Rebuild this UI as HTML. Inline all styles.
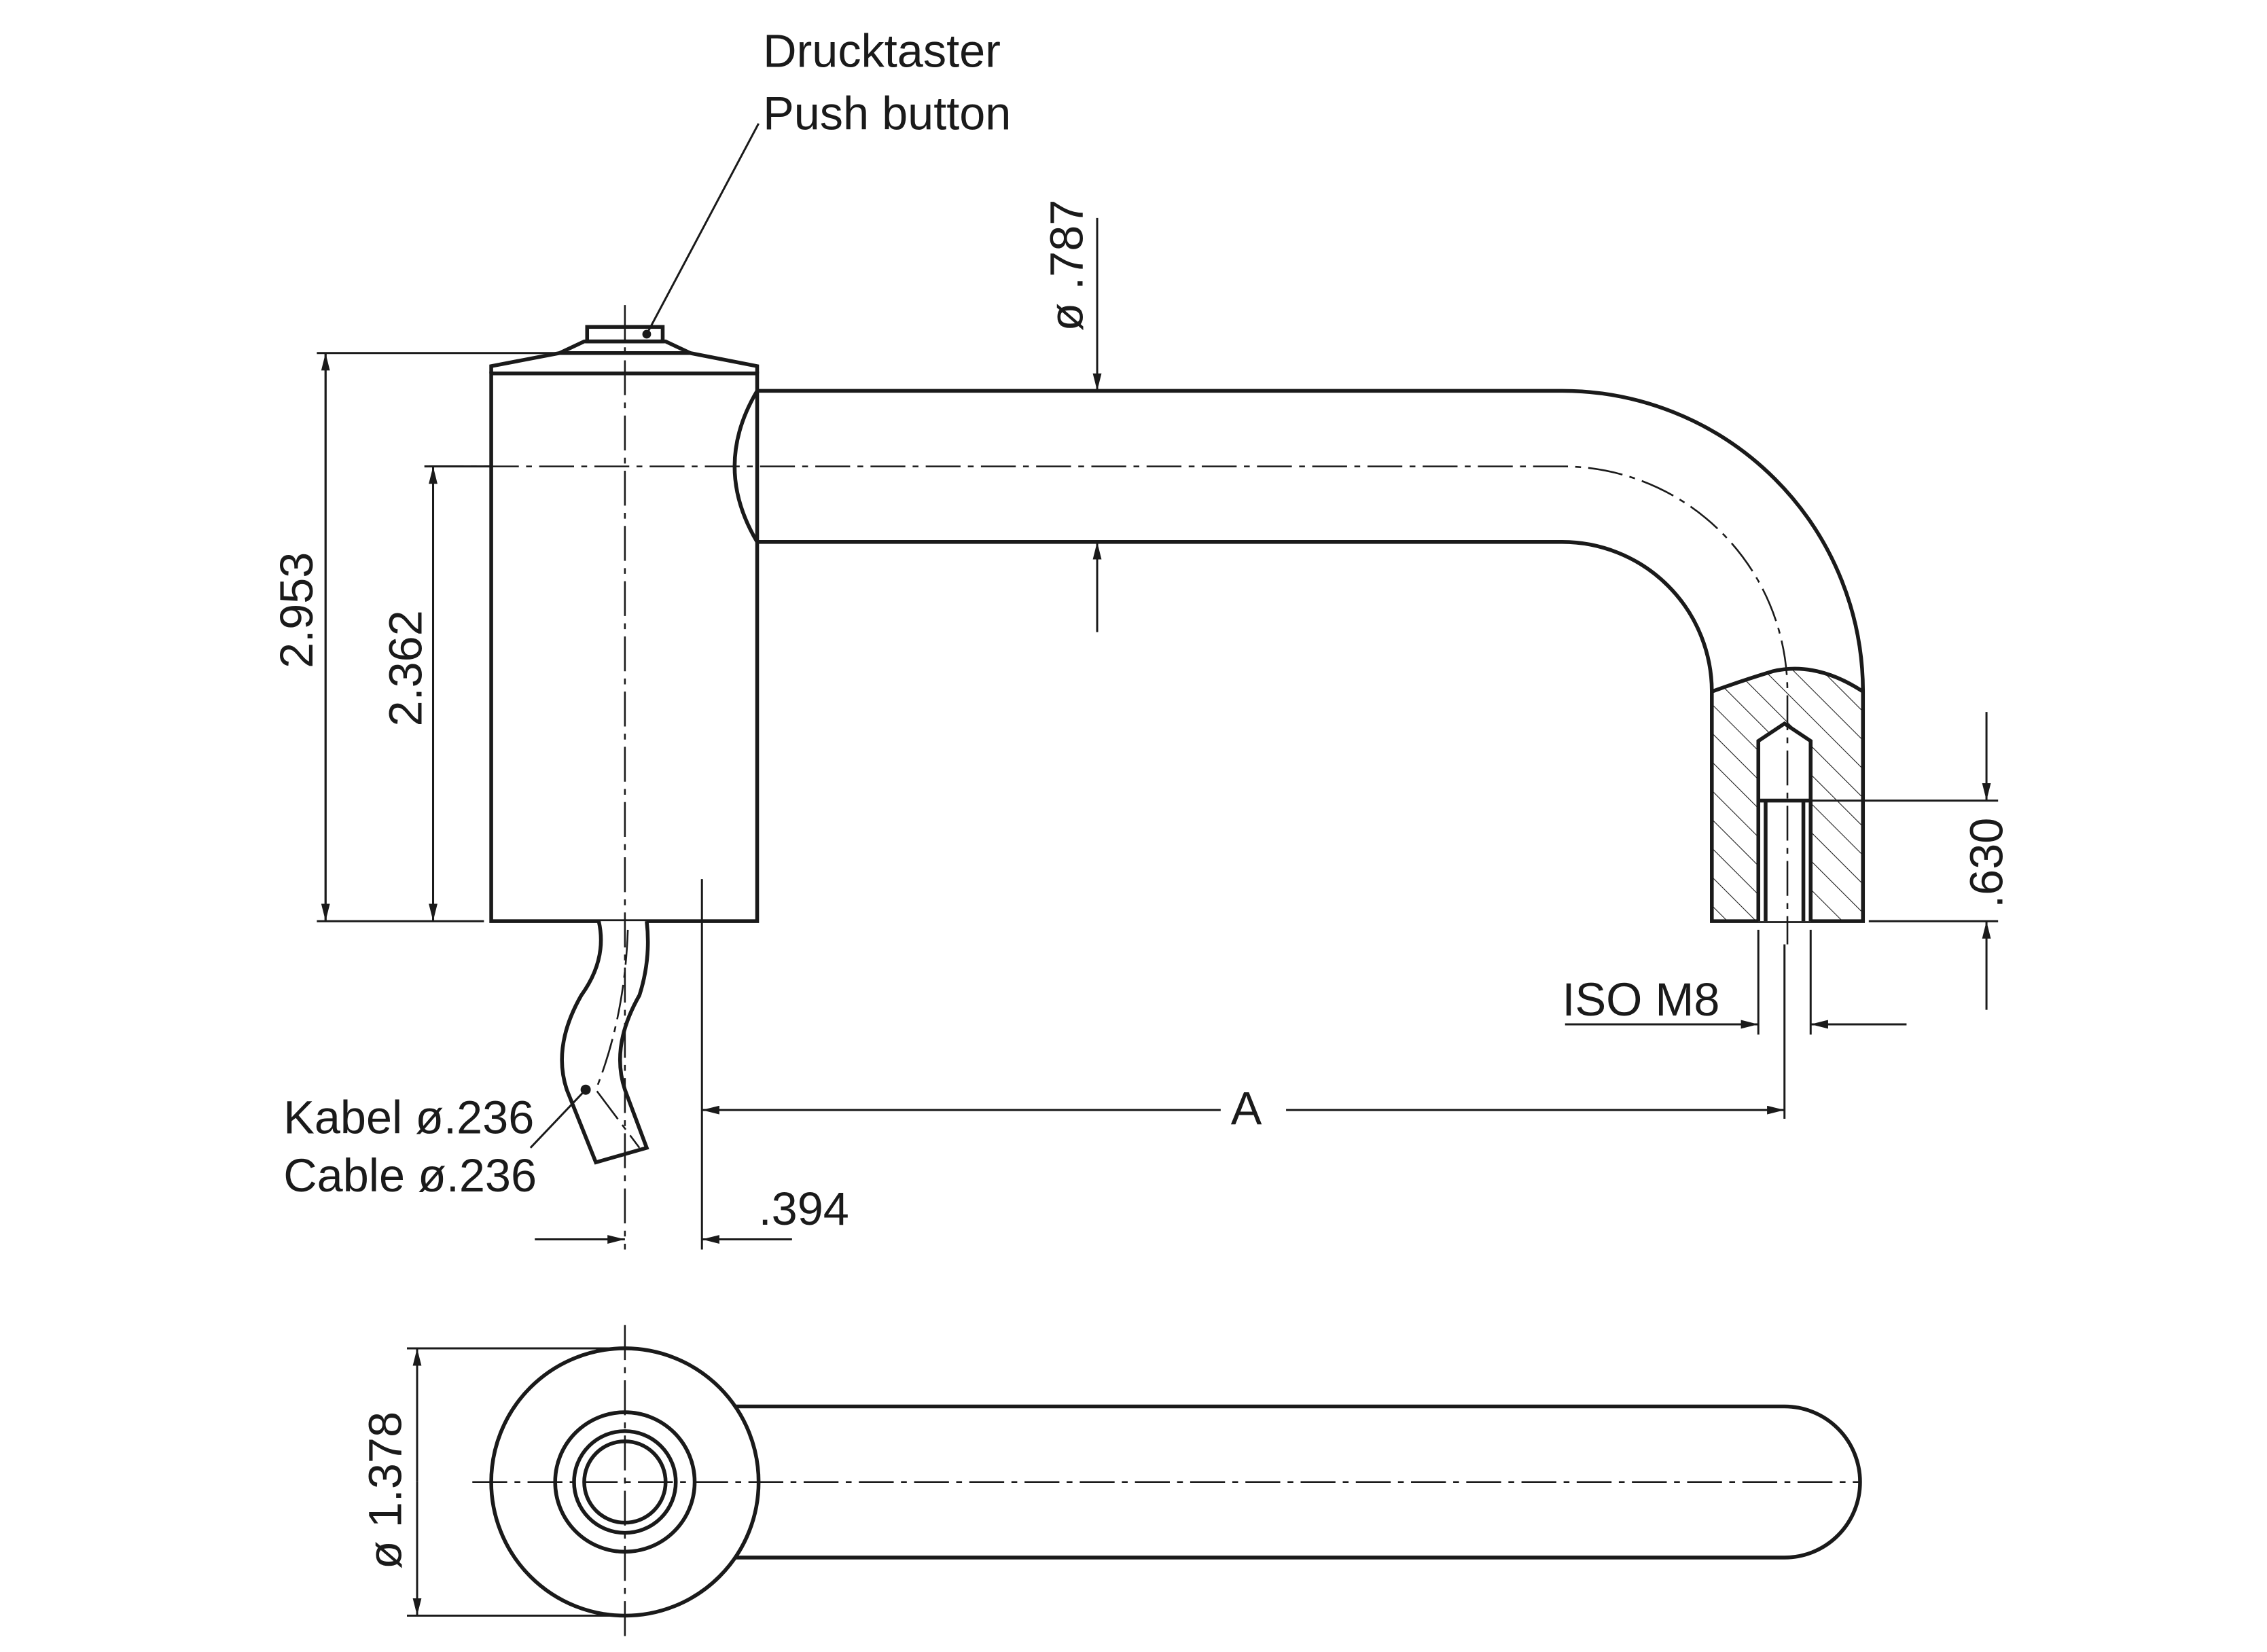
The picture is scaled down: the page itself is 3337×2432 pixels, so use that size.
<!DOCTYPE html>
<html><head><meta charset="utf-8"><style>
html,body{margin:0;padding:0;background:#fff;}
svg{display:block;}
text{font-family:"Liberation Sans",sans-serif;fill:#1a1a1a;}
</style></head><body>
<svg width="3337" height="2432" viewBox="0 0 1560 1137" xmlns="http://www.w3.org/2000/svg">
<defs>
<marker id="a" markerWidth="12" markerHeight="6" refX="12" refY="3" orient="auto" markerUnits="userSpaceOnUse"><path d="M0,0 L12,3 L0,6 Z" fill="#1a1a1a"/></marker>
<pattern id="h" width="14" height="14" patternUnits="userSpaceOnUse" patternTransform="rotate(-45)"><line x1="0" y1="0" x2="0" y2="14" stroke="#1a1a1a" stroke-width="1"/></pattern>
</defs>
<g fill="none" stroke="#1a1a1a" stroke-width="2.6">
<rect x="338" y="257" width="183" height="377" fill="#fff"/>
<path d="M338,257 L338,252 L385,243 L475,243 L521,252 L521,257"/>
<path d="M385,243 L402,235 L458,235 L475,243"/>
<rect x="404" y="225" width="52" height="10"/>
<path d="M521,269 L1075,269 A207,207 0 0 1 1282,476 L1282,634 L1178,634 L1178,476 A103,103 0 0 0 1075,373 L521,373 Q490,321 521,269"/>
<path d="M1178,476 Q1200,468 1220,462 Q1250,455 1282,476 L1282,634 L1178,634 Z" fill="url(#h)" stroke="none"/>
<path d="M1178,476 Q1200,468 1220,462 Q1250,455 1282,476" />
<path d="M1210,634 L1210,510 L1228,498 L1246,510 L1246,634" fill="#fff"/>
<path d="M1210,551 L1246,551 M1215,551 L1215,634 M1241,551 L1241,634"/>
<path d="M412,634 Q418,660 400,685 Q380,720 390,750 L410,800 L445,790 L430,750 Q420,720 440,685 Q448,660 445,634" fill="#fff"/>
<path d="M505,968 L1228,968 A52,52 0 0 1 1228,1072 L505,1072"/>
<circle cx="430" cy="1020" r="92" fill="#fff"/>
<circle cx="430" cy="1020" r="48"/>
<circle cx="430" cy="1020" r="35"/>
<circle cx="430" cy="1020" r="28"/>
</g>
<g fill="none" stroke="#1a1a1a" stroke-width="1.2" stroke-dasharray="24,5,4,5">
<path d="M295,321 L1075,321 A155,155 0 0 1 1230,476 L1230,650"/>
<path d="M430,210 L430,860"/>
<path d="M325,1020 L1280,1020"/>
<path d="M430,912 L430,1128"/>
<path d="M432,640 Q430,700 410,750 L440,790"/>
</g>
<g fill="none" stroke="#1a1a1a" stroke-width="1.4">
<path d="M218,243 L385,243 M218,634 L333,634 M292,321 L338,321"/>
<line x1="224" y1="634" x2="224" y2="243" marker-end="url(#a)"/>
<line x1="224" y1="243" x2="224" y2="634" marker-end="url(#a)"/>
<line x1="298" y1="634" x2="298" y2="321" marker-end="url(#a)"/>
<line x1="298" y1="321" x2="298" y2="634" marker-end="url(#a)"/>
<line x1="755" y1="150" x2="755" y2="269" marker-end="url(#a)"/>
<line x1="755" y1="435" x2="755" y2="373" marker-end="url(#a)"/>
<path d="M1246,551 L1375,551 M1286,634 L1375,634"/>
<line x1="1367" y1="490" x2="1367" y2="551" marker-end="url(#a)"/>
<line x1="1367" y1="695" x2="1367" y2="634" marker-end="url(#a)"/>
<path d="M1210,640 L1210,712 M1246,640 L1246,712"/>
<line x1="1077" y1="705" x2="1210" y2="705" marker-end="url(#a)"/>
<line x1="1312" y1="705" x2="1246" y2="705" marker-end="url(#a)"/>
<path d="M483,605 L483,860 M1228,650 L1228,770"/>
<line x1="840" y1="764" x2="483" y2="764" marker-end="url(#a)"/>
<line x1="885" y1="764" x2="1228" y2="764" marker-end="url(#a)"/>
<line x1="368" y1="853" x2="430" y2="853" marker-end="url(#a)"/>
<line x1="545" y1="853" x2="483" y2="853" marker-end="url(#a)"/>
<path d="M280,928 L430,928 M280,1112 L430,1112"/>
<line x1="287" y1="1020" x2="287" y2="928" marker-end="url(#a)"/>
<line x1="287" y1="1020" x2="287" y2="1112" marker-end="url(#a)"/>
<path d="M445,230 L522,85"/>
<path d="M403,750 L365,790"/>
</g>
<circle cx="445" cy="230" r="3" fill="#1a1a1a"/>
<circle cx="403" cy="750" r="3.5" fill="#1a1a1a"/>
<g font-size="32">
<text x="525" y="46">Drucktaster</text>
<text x="525" y="89">Push button</text>
<text x="195" y="780">Kabel ø.236</text>
<text x="195" y="820">Cable ø.236</text>
<text x="522" y="843">.394</text>
<text x="847" y="774">A</text>
<text x="1075" y="699">ISO M8</text>
<text transform="translate(215,460) rotate(-90)">2.953</text>
<text transform="translate(290,500) rotate(-90)">2.362</text>
<text transform="translate(745,228) rotate(-90)">ø .787</text>
<text transform="translate(1378,625) rotate(-90)">.630</text>
<text transform="translate(276,1080) rotate(-90)">ø 1.378</text>
</g>
</svg>
</body></html>
